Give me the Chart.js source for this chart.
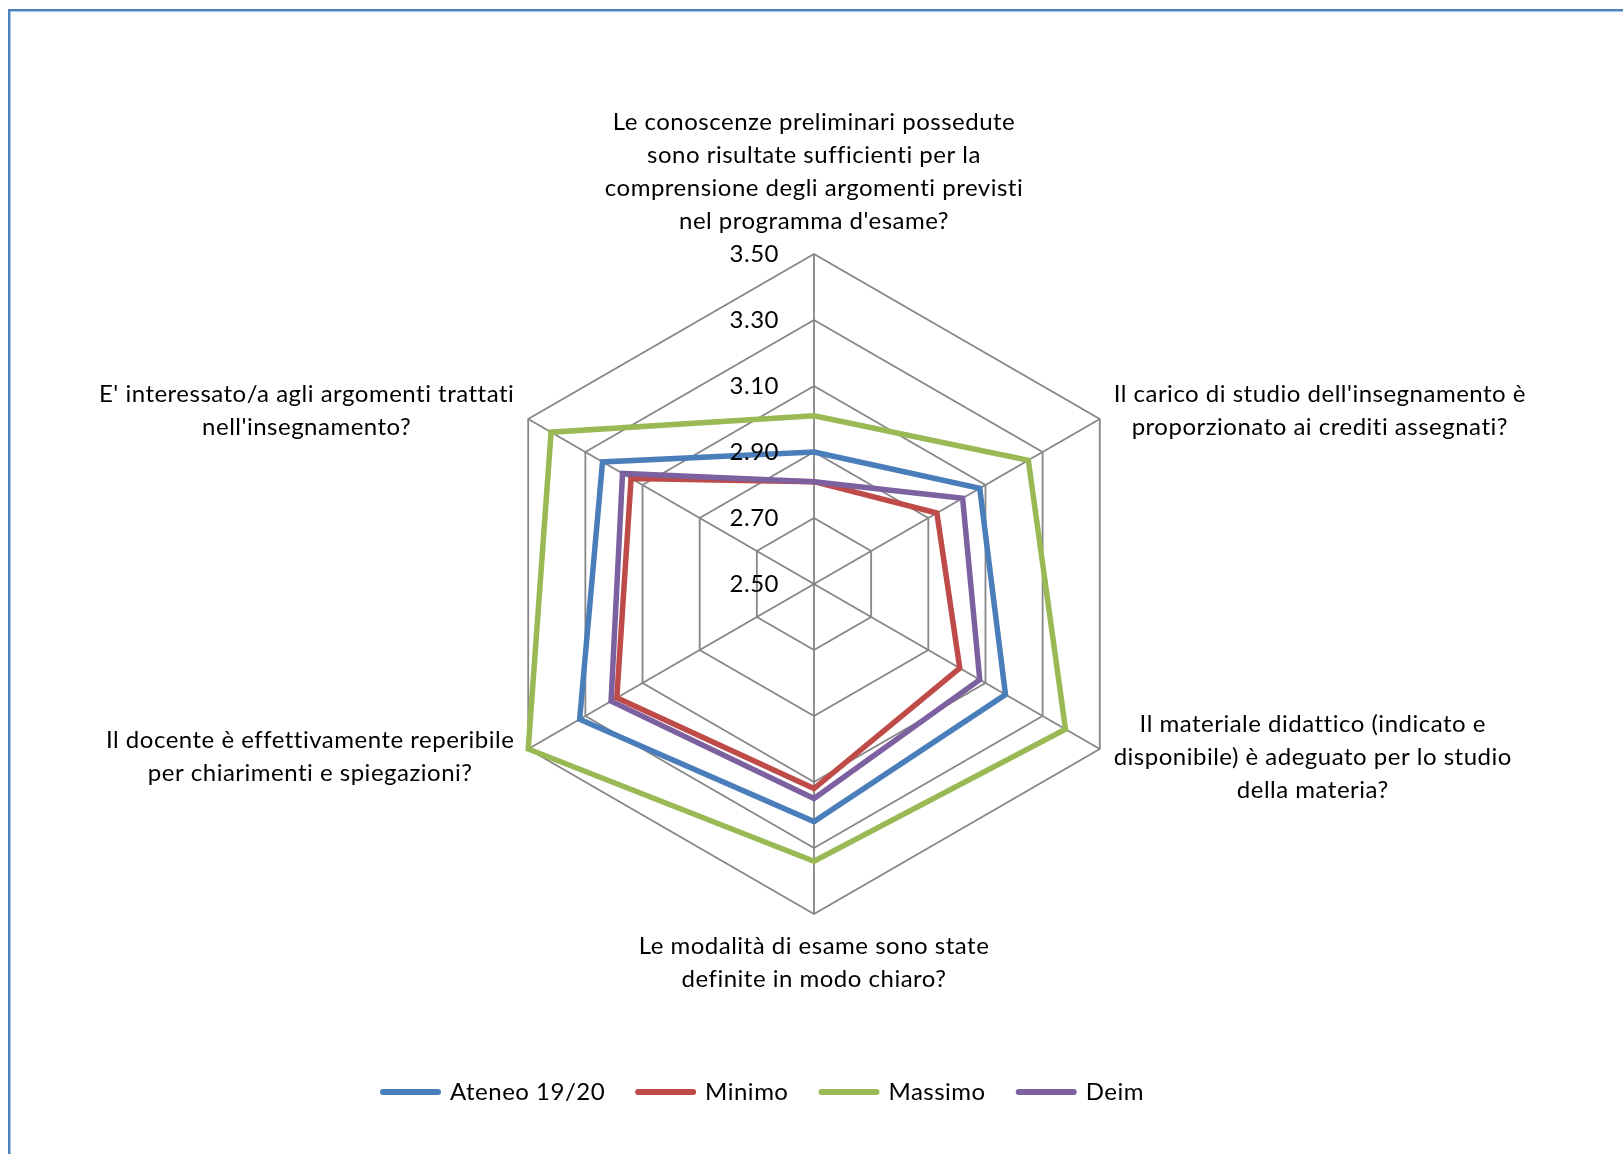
<!DOCTYPE html>
<html lang="it">
<head>
<meta charset="utf-8">
<title>Questionario - radar</title>
<script src="https://cdn.jsdelivr.net/npm/chart.js@4.4.1/dist/chart.umd.min.js"></script>
<style>
  html, body { margin: 0; padding: 0; background: #fff; overflow: hidden; }
  #wrap { position: relative; width: 1623px; height: 1154px; }
  #frame {
    position: absolute; left: 8px; top: 9px; width: 1700px; height: 1300px;
    border-left: 2px solid #4F81BD; border-top: 2px solid #4F81BD;
    box-shadow: inset 1px 1px 0 #a9c4e8;
  }
  canvas { position: absolute; left: 0; top: 0; }
</style>
</head>
<body>
<div id="wrap">
  <div id="frame"></div>
  <canvas id="radar"></canvas>
</div>
<script>
// domande (etichette degli assi, già spezzate su più righe come nell'originale)
const categories = [
  ["Le conoscenze preliminari possedute", "sono risultate sufficienti per la", "comprensione degli argomenti previsti", "nel programma d'esame?"],
  ["Il carico di studio dell'insegnamento è", "proporzionato ai crediti assegnati?"],
  ["Il materiale didattico (indicato e", "disponibile) è adeguato per lo studio", "della materia?"],
  ["Le modalità di esame sono state", "definite in modo chiaro?"],
  ["Il docente è effettivamente reperibile", "per chiarimenti e spiegazioni?"],
  ["E' interessato/a agli argomenti trattati", "nell'insegnamento?"]
];

const seriesNames = ["Ateneo 19/20", "Minimo", "Massimo", "Deim"];
const ateneo  = [2.90, 3.08, 3.17, 3.22, 3.32, 3.24];
const minimo  = [2.81, 2.93, 3.01, 3.12, 3.19, 3.14];
const massimo = [3.01, 3.25, 3.38, 3.34, 3.50, 3.42];
const deim    = [2.81, 3.02, 3.08, 3.15, 3.21, 3.17];

const scaleMin = 2.5;
const scaleMax = 3.5;
const scaleStep = 0.2;

const FONT = "Lato, 'Noto Sans', sans-serif";
const FONT_PX = 24;
const LINE_H = 33;
const SPACING = "0.5px"; // Lato è più stretto del Calibri originale
const colors = ["#4A7EBB", "#BE4B48", "#98B954", "#7D60A0"];

// spaziatura lettere anche per la legenda (il contesto si resetta al resize)
const spacingFix = {
  id: "spacingFix",
  beforeLayout(chart) { chart.ctx.letterSpacing = SPACING; },
  beforeDraw(chart) { chart.ctx.letterSpacing = SPACING; }
};

// etichette di asse e di tick disegnate "alla Excel"
const excelLabels = {
  id: "excelLabels",
  afterDraw(chart) {
    const scale = chart.scales.r;
    const ctx = chart.ctx;
    ctx.save();
    ctx.font = FONT_PX + "px " + FONT;
    ctx.letterSpacing = SPACING;
    ctx.fillStyle = "#000";
    ctx.textBaseline = "middle";

    ctx.textAlign = "right";
    scale.ticks.forEach(t => {
      const y = scale.yCenter - scale.getDistanceFromCenterForValue(t.value);
      ctx.fillText(t.value.toFixed(2), scale.xCenter - 35, y);
    });

    ctx.textAlign = "center";
    categories.forEach((lines, i) => {
      const p = scale.getPointPosition(i, scale.drawingArea + 16);
      const w = Math.max(...lines.map(l => ctx.measureText(l).width));
      const h = lines.length * LINE_H;
      const dx = p.x - scale.xCenter;
      let cx = p.x, top;
      if (Math.abs(dx) < 1) {
        top = p.y < scale.yCenter ? p.y - h : p.y;
      } else {
        cx = dx > 0 ? p.x + w / 2 : p.x - w / 2;
        top = p.y - h / 2;
      }
      lines.forEach((l, k) => ctx.fillText(l, cx, top + LINE_H * (k + 0.5)));
    });
    ctx.restore();
  }
};

// Deim sopra a tutto come in Excel -> ordine invertito, legenda invertita
const datasets = [ateneo, minimo, massimo, deim].map((vals, i) => ({
  label: seriesNames[i],
  data: vals,
  borderColor: colors[i],
  backgroundColor: colors[i],
  borderWidth: 5.5,
  borderCapStyle: "round",
  fill: false,
  pointRadius: 0,
  pointHoverRadius: 0
})).reverse();

new Chart(document.getElementById("radar"), {
  type: "radar",
  data: { labels: categories, datasets },
  options: {
    responsive: true,
    maintainAspectRatio: false,
    animation: false,
    layout: { padding: { bottom: 40, right: 96 } },
    elements: { line: { tension: 0 } },
    scales: {
      r: {
        min: scaleMin,
        max: scaleMax,
        ticks: { stepSize: scaleStep, display: false },
        pointLabels: { display: false },
        grid: { color: "#868686", lineWidth: 1.8 },
        angleLines: { color: "#868686", lineWidth: 1.8 },
        afterFit(s) {
          s.xCenter = 814;
          s.yCenter = 584;
          s.drawingArea = 330;
        }
      }
    },
    plugins: {
      tooltip: { enabled: false },
      legend: {
        position: "bottom",
        reverse: true,
        labels: {
          usePointStyle: true,
          pointStyle: "line",
          pointStyleWidth: 55,
          padding: 33,
          color: "#000",
          font: { family: FONT, size: FONT_PX },
          generateLabels(chart) {
            const items = Chart.defaults.plugins.legend.labels.generateLabels(chart);
            return items.map(it => ({ ...it, lineWidth: 6, lineCap: "round" }));
          }
        }
      }
    }
  },
  plugins: [spacingFix, excelLabels]
});
</script>
</body>
</html>
